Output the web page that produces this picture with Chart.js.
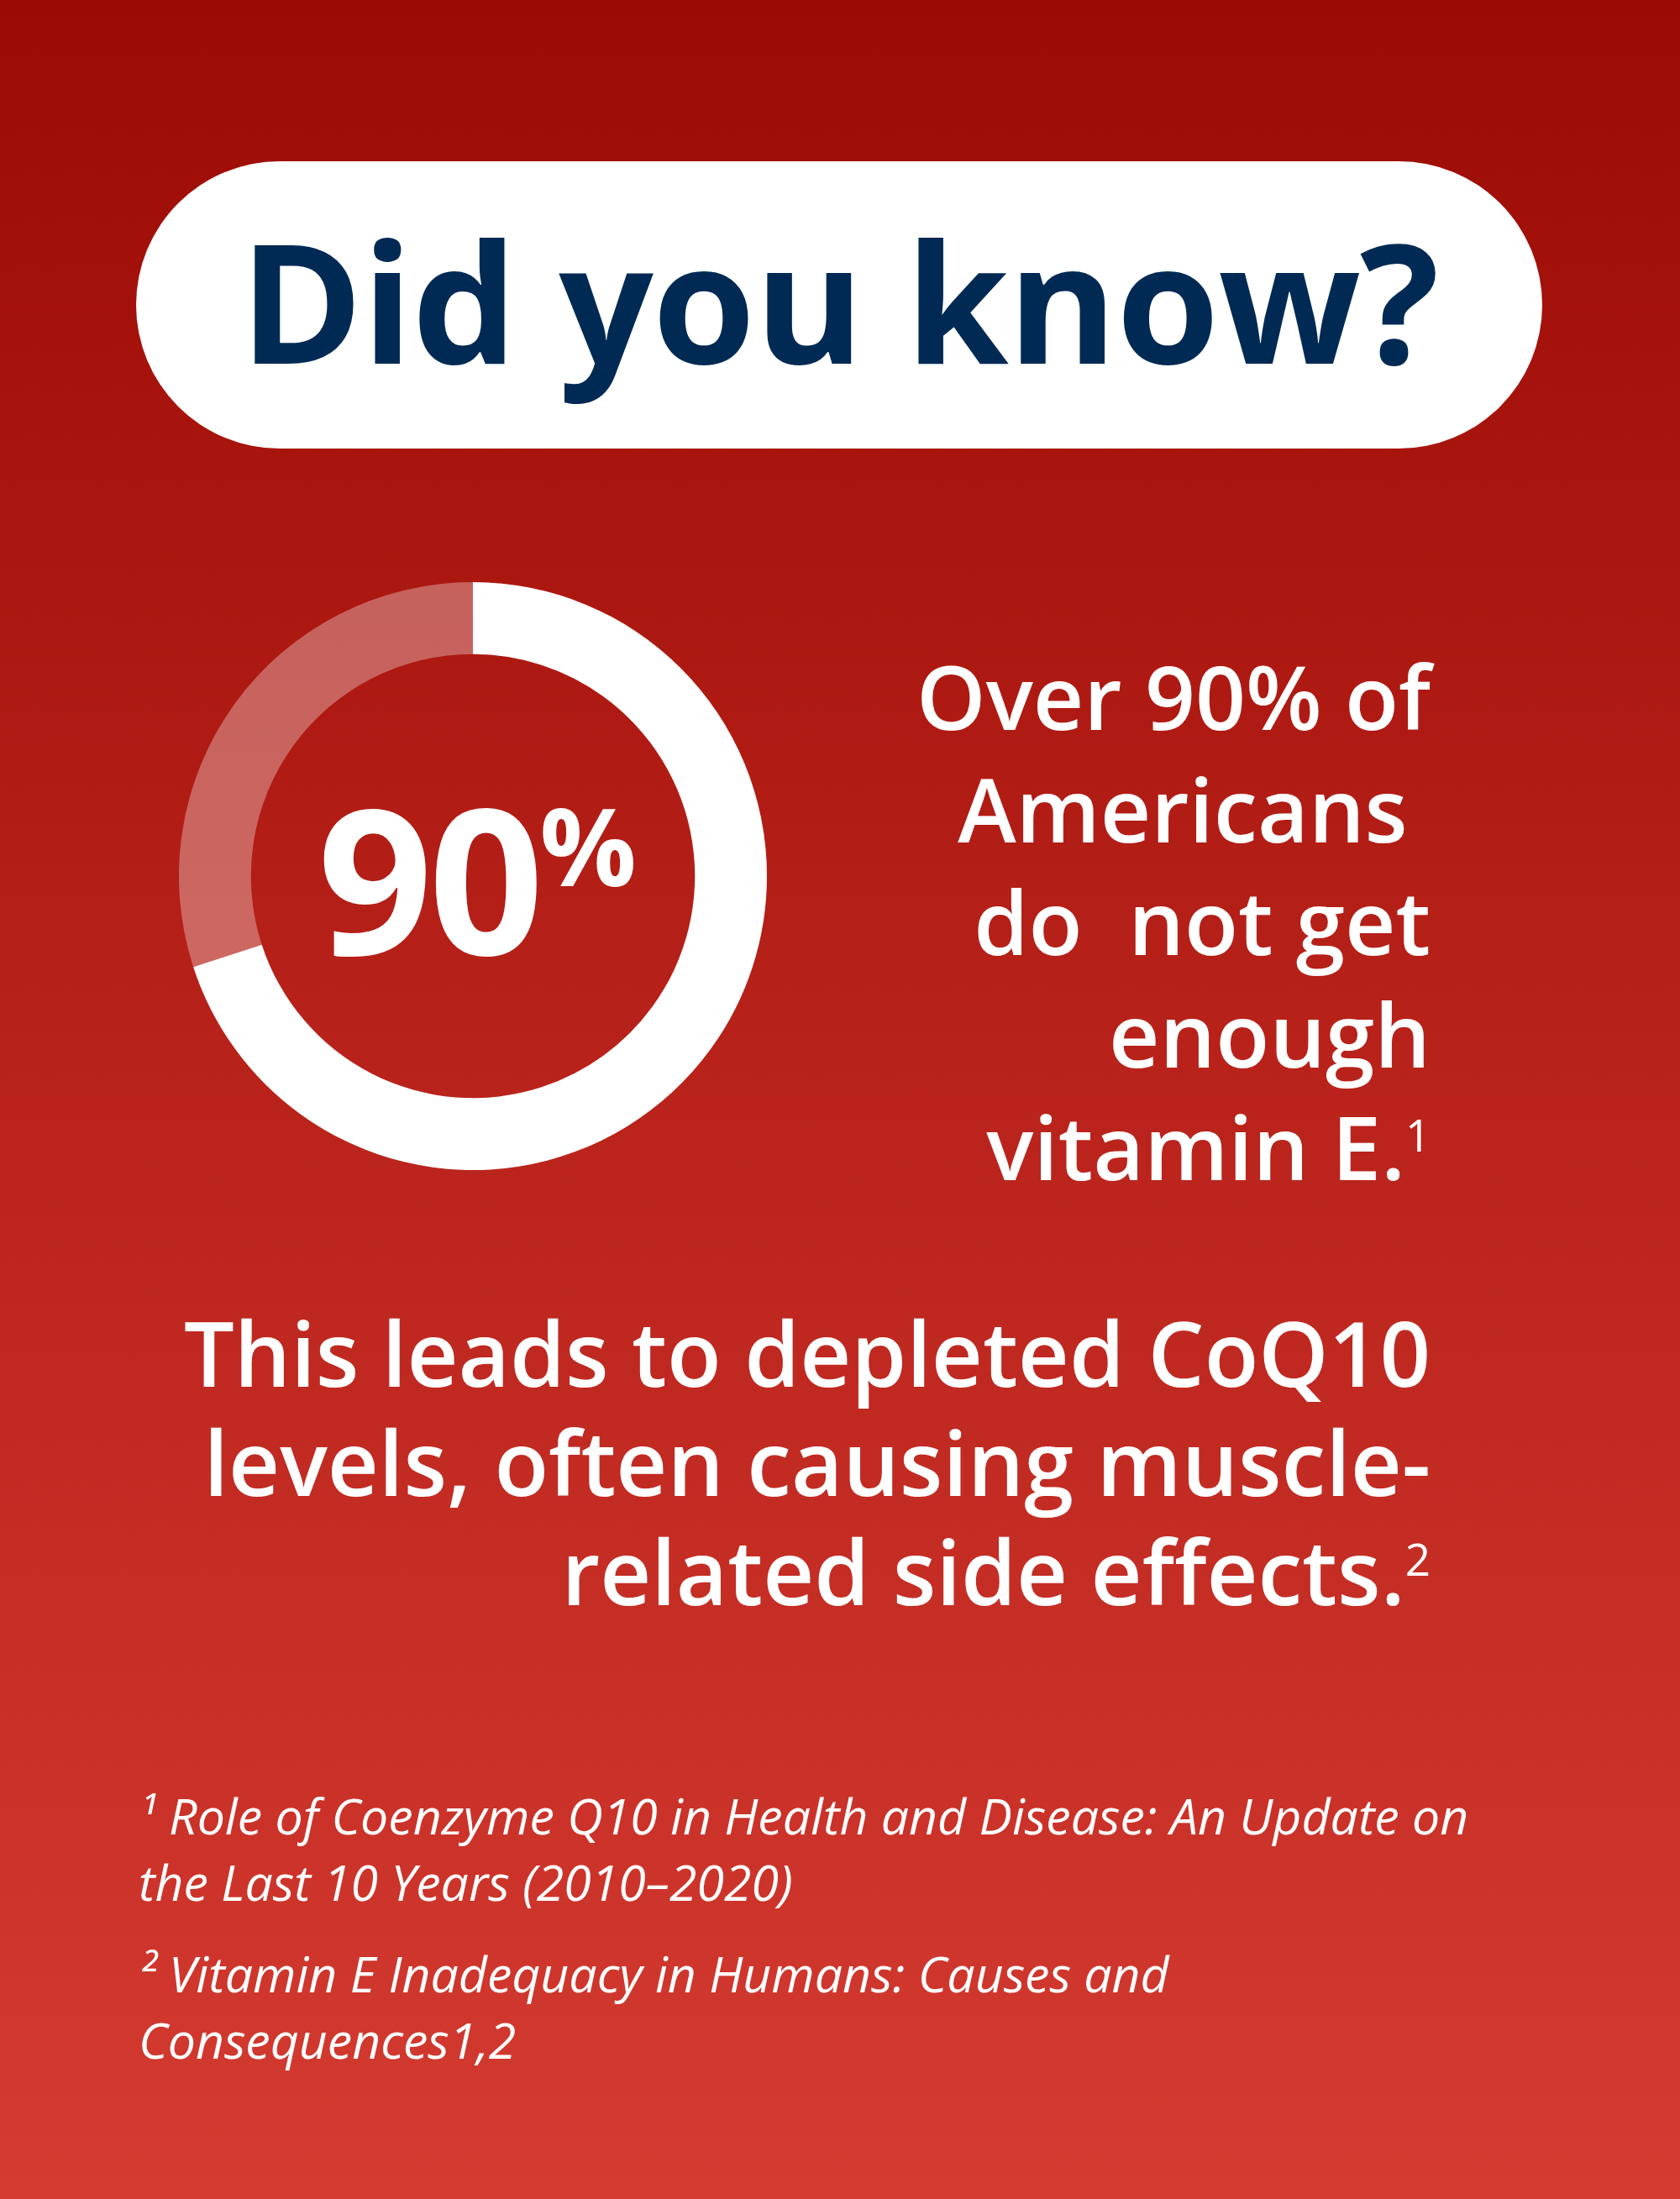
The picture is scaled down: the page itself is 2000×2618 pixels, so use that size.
<!DOCTYPE html>
<html>
<head>
<meta charset="utf-8">
<script src="https://cdn.jsdelivr.net/npm/chart.js@4.4.0/dist/chart.umd.min.js"></script>
<style>
  html, body { margin: 0; padding: 0; }
  body {
    width: 2000px; height: 2618px; position: relative; overflow: hidden;
    background: linear-gradient(to bottom, #9b0b04 0%, #b9231b 50%, #d43b31 100%);
    font-family: "Open Sans", "Noto Sans", sans-serif; color: #fff;
  }
  .pill {
    position: absolute; left: 162px; top: 192px; width: 1674px; height: 342px;
    background: #fff; border-radius: 171px;
    display: flex; align-items: center; justify-content: center;
  }
  .pill span { font-size: 198px; font-weight: 700; color: #002a54; letter-spacing: -1px; margin-top: -14px; }
  #donutWrap { position: absolute; left: 213px; top: 693px; width: 700px; height: 700px; }
  .center {
    position: absolute; left: 213px; top: 693px; width: 700px; height: 700px;
    display: flex; align-items: center; justify-content: center; pointer-events: none;
  }
  .center b { font-size: 240px; font-weight: 700; letter-spacing: -5px; margin-left: 10px; }
  .center sup { font-size: 128px; font-weight: 700; position: relative; top: -38px; vertical-align: top; }
  .stat {
    position: absolute; right: 297px; top: 762px; text-align: right;
    font-size: 105px; font-weight: 600; line-height: 134px; white-space: pre;
  }
  .lead {
    position: absolute; right: 297px; top: 1545px; text-align: right;
    font-size: 106px; font-weight: 600; line-height: 130px;
  }
  .stat sup, .lead sup { font-size: 50%; font-weight: 400; vertical-align: top; position: relative; top: -14px; }
  .notes { position: absolute; left: 165px; top: 2122px; width: 1800px; font-size: 59px; font-style: italic; line-height: 79px; }
  .notes p { margin: 0 0 30px 0; }
</style>
</head>
<body>
<div class="pill"><span>Did you know?</span></div>
<div id="donutWrap"><canvas id="donut"></canvas></div>
<div class="center"><b>90</b><sup>%</sup></div>
<div class="stat">Over 90% of
Americans 
do  not get
enough
vitamin E.<sup>1</sup></div>
<div class="lead">This leads to depleted CoQ10<br>levels, often causing muscle-<br>related side effects.<sup>2</sup></div>
<div class="notes">
  <p>¹ Role of Coenzyme Q10 in Health and Disease: An Update on<br>the Last 10 Years (2010–2020)</p>
  <p>² Vitamin E Inadequacy in Humans: Causes and<br>Consequences1,2</p>
</div>
<script>
const sliceLabels = ["Not enough vitamin E", "Rest"];
const sliceValues = [70, 30];
const sliceColors = ["#ffffff", "rgba(255,255,255,0.32)"];

new Chart(document.getElementById("donut"), {
  type: "doughnut",
  data: {
    labels: sliceLabels,
    datasets: [{ data: sliceValues, backgroundColor: sliceColors, borderWidth: 0 }]
  },
  options: {
    responsive: true,
    maintainAspectRatio: true,
    animation: false,
    cutout: "75.5%",
    plugins: { legend: { display: false }, tooltip: { enabled: false } }
  }
});
</script>
</body>
</html>
